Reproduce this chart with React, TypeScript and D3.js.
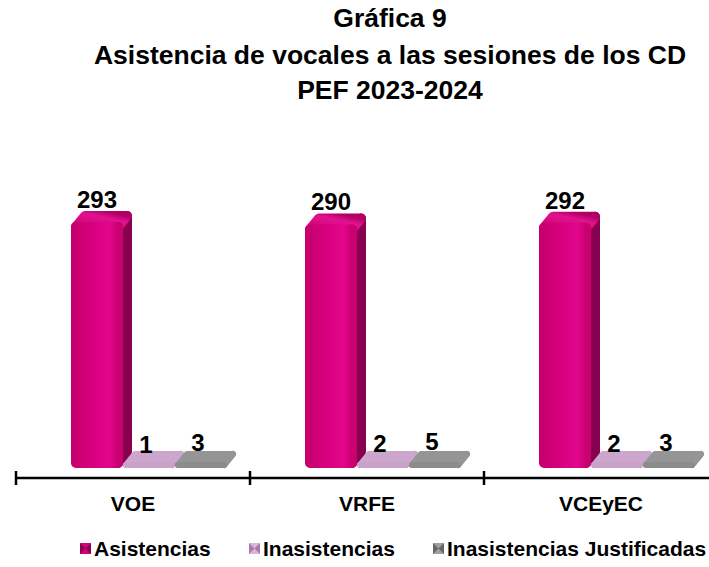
import * as d3 from "d3";

const categories = ["VOE", "VRFE", "VCEyEC"];
const seriesNames = ["Asistencias", "Inasistencias", "Inasistencias Justificadas"];
const asistencias = [293, 290, 292];
const inasistencias = [1, 2, 2];
const justificadas = [3, 5, 3];
const titleLines = ["Gráfica 9", "Asistencia de vocales a las sesiones de los CD", "PEF 2023-2024"];

const seriesValues = [asistencias, inasistencias, justificadas];

const palette = [
  { front: "url(#gMag)", side: "#880050", top: "url(#gMagTop)", legend: "#d4007c", legendDark: "#8a0050" },
  { front: "#c9a1c9", side: "#b48db4", top: "#cda6cd", legend: "#dcb4dc", legendDark: "#a87ca8" },
  { front: "#8c8c8c", side: "#777777", top: "#959595", legend: "#a0a0a0", legendDark: "#666666" },
];

const W = 709;
const H = 567;
const font = "'Liberation Sans', Arial, sans-serif";

const App = () => {
  const x = d3.scaleBand<string>().domain(categories).range([16, 16 + 234 * 3]);
  const inner = d3
    .scaleBand<number>()
    .domain([0, 1, 2])
    .range([55, 55 + 52 * 3]);
  const y = d3.scaleLinear().domain([0, 350]).range([468, 174]);
  const axisY = 478;
  const dx = 9;
  const dy = -11;
  const bw = inner.bandwidth();

  const bars: JSX.Element[] = [];
  const labels: JSX.Element[] = [];
  categories.forEach((c, ci) => {
    seriesValues.forEach((vals, si) => {
      const v = vals[ci];
      const r = si === 0 ? 10 : 6;
      const h = r / 2;
      const x0 = (x(c) ?? 0) + (inner(si) ?? 0) + h;
      const x1 = x0 + bw - 2 * h;
      const y0 = y(0) - h;
      const yt = Math.min(y(v) + h, y0);
      const p = palette[si];
      bars.push(
        <g key={`${c}-${si}`} strokeLinejoin="round">
          <path
            d={`M${x1},${yt} L${x1 + dx},${yt + dy} L${x1 + dx},${y0 + dy} L${x1},${y0} Z`}
            fill={p.side}
            stroke={p.side}
            strokeWidth={r}
          />
          <path
            d={`M${x0},${yt} L${x1},${yt} L${x1 + dx},${yt + dy} L${x0 + dx},${yt + dy} Z`}
            fill={p.top}
            stroke={p.top}
            strokeWidth={r}
          />
          <path
            d={`M${x0},${y0} L${x0},${yt} L${x1},${yt} L${x1},${y0} Z`}
            fill={p.front}
            stroke={p.front}
            strokeWidth={r}
          />
        </g>
      );
      labels.push(
        <text
          key={`l-${c}-${si}`}
          x={si === 0 ? x0 + bw / 2 - h : x0 + bw / 2 - h - 3}
          y={y(v) + dy - 3}
          textAnchor="middle"
          fontFamily={font}
          fontWeight="bold"
          fontSize={24}
          fill="#000"
        >
          {v}
        </text>
      );
    });
  });

  const ticks = [0, 1, 2, 3].map((i) => 16 + 234 * i);
  const legendX = [80, 249, 433];

  return (
    <svg width={W} height={H} style={{ position: "absolute", left: 0, top: 0 }}>
      <defs>
        <linearGradient id="gMag" x1="0" x2="1" y1="0" y2="0">
          <stop offset="0" stopColor="#c8006f" />
          <stop offset="0.4" stopColor="#d8007f" />
          <stop offset="0.8" stopColor="#e2068c" />
          <stop offset="1" stopColor="#c9006f" />
        </linearGradient>
        <linearGradient id="gMagTop" x1="0" x2="1" y1="1" y2="0">
          <stop offset="0" stopColor="#cc0074" />
          <stop offset="0.7" stopColor="#e2128f" />
          <stop offset="1" stopColor="#b00064" />
        </linearGradient>
      </defs>
      <rect width={W} height={H} fill="#fff" />
      {titleLines.map((t, i) => (
        <text
          key={i}
          x={390}
          y={[27, 64, 99][i]}
          textAnchor="middle"
          fontFamily={font}
          fontWeight="bold"
          fontSize={26.5}
          fill="#000"
        >
          {t}
        </text>
      ))}
      {bars}
      {labels}
      <line x1={16} x2={W} y1={axisY} y2={axisY} stroke="#000" strokeWidth={2.5} />
      {ticks.map((t) => (
        <line key={t} x1={t} x2={t} y1={axisY - 7} y2={axisY + 7} stroke="#000" strokeWidth={2.5} />
      ))}
      {categories.map((c) => (
        <text
          key={c}
          x={(x(c) ?? 0) + x.bandwidth() / 2}
          y={511}
          textAnchor="middle"
          fontFamily={font}
          fontWeight="bold"
          fontSize={21}
          fill="#000"
        >
          {c}
        </text>
      ))}
      {seriesNames.map((s, i) => {
        const lx = legendX[i];
        const p = palette[i];
        return (
          <g key={s}>
            <rect x={lx} y={543} width={11} height={11} fill={p.legend} />
            <path d={`M${lx},543 L${lx + 5.5},548.5 L${lx},554 Z`} fill={p.legendDark} />
            <path d={`M${lx + 11},543 L${lx + 5.5},548.5 L${lx + 11},554 Z`} fill={p.legendDark} />
            <text
              x={lx + 14}
              y={556}
              fontFamily={font}
              fontWeight="bold"
              fontSize={21}
              fill="#000"
            >
              {s}
            </text>
          </g>
        );
      })}
    </svg>
  );
};

export default App;
